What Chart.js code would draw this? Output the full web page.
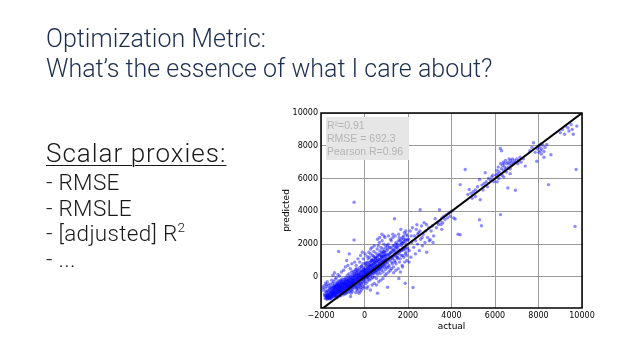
<!DOCTYPE html>
<html>
<head>
<meta charset="utf-8">
<script src="https://cdn.jsdelivr.net/npm/chart.js@4/dist/chart.umd.min.js"></script>
<style>
  html,body{margin:0;padding:0;background:#fff;}
  #wrap{position:relative;width:638px;height:359px;overflow:hidden;}
  #c{position:absolute;left:0;top:0;}
  .t{position:absolute;white-space:nowrap;font-family:Roboto,"Liberation Sans",sans-serif;font-weight:300;line-height:1;}
  .ti{left:46px;font-size:25px;color:#1d2e4f;}
  .h{left:46px;font-size:26px;color:#1a1a1a;letter-spacing:1px;text-decoration:underline;text-decoration-thickness:1px;text-underline-offset:3px;}
  .b{left:46px;font-size:22.5px;color:#1a1a1a;letter-spacing:0.3px;}
  sup{font-size:60%;vertical-align:top;position:relative;top:-1px;}
</style>
</head>
<body>
<div id="wrap">
  <canvas id="c" width="638" height="359"></canvas>
  <div class="t ti" style="top:26px">Optimization Metric:</div>
  <div class="t ti" style="top:56px">What’s the essence of what I care about?</div>
  <div class="t h" style="top:140px">Scalar proxies:</div>
  <div class="t b" style="top:171px">- RMSE</div>
  <div class="t b" style="top:197px">- RMSLE</div>
  <div class="t b" style="top:222px">- [adjusted] R<sup>2</sup></div>
  <div class="t b" style="top:248px">- ...</div>
</div>
<script>
// ---- data: [actual, predicted] pairs, grouped by region ----
const regionL1 = [[-1920,-650],[-1890,-820],[-1860,-540],[-1840,-1050],[-1810,-700],[-1790,-380],[-1770,-920],[-1750,-1180],[-1730,-600],[-1710,-300],[-1690,-850],[-1670,-1250],[-1650,-500],[-1630,-1000],[-1610,-720],[-1600,-1300],[-1580,-450],[-1560,-880],[-1540,-1150],[-1520,-620],[-1510,-200],[-1500,-980],[-1830,-1150],[-1760,-480],[-1680,-1100],[-1620,-1200],[-1570,-1280],[-1530,-1320],[-1720,-1050],[-1590,-650]];
const regionL2 = [[-1490,-1250],[-1480,-700],[-1470,-400],[-1460,-1050],[-1450,-850],[-1440,-550],[-1430,-1200],[-1420,-300],[-1410,-950],[-1400,-650],[-1390,-1100],[-1380,-800],[-1370,-480],[-1360,-1000],[-1350,-150],[-1340,-720],[-1330,-1150],[-1320,-880],[-1310,-560],[-1300,-1020],[-1290,-350],[-1280,-780],[-1270,-1200],[-1260,-640],[-1250,-920],[-1240,-420],[-1230,-1080],[-1220,-700],[-1210,-250],[-1200,-860],[-1190,-520],[-1180,-1000],[-1170,-680],[-1160,-330],[-1150,-900],[-1140,-600],[-1130,-1100],[-1120,-450],[-1110,-780],[-1100,-200],[-1090,-950],[-1080,-560],[-1070,-850],[-1060,-380],[-1050,-1020],[-1040,-650],[-1030,-120],[-1020,-760],[-1010,-480],[-1000,-900],[-1450,100],[-1380,250],[-1300,-50],[-1220,150],[-1150,50],[-1060,300],[-1190,1550],[-1420,-900],[-1350,-600],[-1270,-500],[-1230,-820],[-1160,-720],[-1120,-620],[-1080,-250],[-1040,-880],[-1480,-1000],[-1320,-1250],[-1260,-1280],[-1180,-1180],[-1100,-1150]];
const regionL3 = [[-990,-650],[-980,-300],[-970,-820],[-960,-500],[-950,-1000],[-940,-150],[-930,-700],[-920,-420],[-910,-880],[-900,-600],[-890,-250],[-880,-760],[-870,-50],[-860,-540],[-850,-920],[-840,-380],[-830,-680],[-820,-200],[-810,-830],[-800,-470],[-790,100],[-780,-620],[-770,-320],[-760,-780],[-750,-520],[-740,-100],[-730,-700],[-720,-400],[-710,200],[-700,-580],[-690,-280],[-680,-750],[-670,-450],[-660,0],[-650,-620],[-640,-340],[-630,-820],[-620,-180],[-610,-520],[-600,300],[-590,-400],[-580,-680],[-570,-120],[-560,-560],[-550,-300],[-540,-760],[-530,50],[-520,-450],[-510,-220],[-500,-620],[-960,400],[-880,600],[-820,1000],[-760,700],[-700,1400],[-650,500],[-580,800],[-520,350],[-900,-1050],[-840,-1000],[-760,-950],[-680,-900],[-620,-1000],[-560,-900],[-640,-1200],[-990,-1100],[-930,-350],[-870,-450],[-810,-580],[-750,-250],[-690,-520],[-630,-600],[-570,-350],[-510,-400]];
const regionL4 = [[-490,-150],[-480,-500],[-470,200],[-460,-320],[-450,-650],[-440,0],[-430,-420],[-420,-150],[-410,450],[-400,-550],[-390,-250],[-380,100],[-370,-450],[-360,-750],[-350,250],[-340,-300],[-330,-50],[-320,-600],[-310,400],[-300,-200],[-290,-450],[-280,150],[-270,-350],[-260,-700],[-250,50],[-240,-250],[-230,550],[-220,-480],[-210,-100],[-200,250],[-190,-380],[-180,-650],[-170,100],[-160,-200],[-150,650],[-140,-420],[-130,0],[-120,-280],[-110,350],[-100,-550],[-90,150],[-80,-150],[-70,800],[-60,-380],[-50,50],[-40,-200],[-30,450],[-20,-80],[-10,250],[-480,4550],[-480,2250],[-450,900],[-380,700],[-300,1100],[-220,900],[-180,1300],[-100,1500],[-60,1100],[-400,-950],[-330,-850],[-250,-1000],[-200,-900],[-150,-800],[-80,-700],[-20,-600],[-350,-650],[-290,-100],[-210,-550],[-140,-50],[-60,300],[-440,350],[-360,500],[-130,650]];
const regionM1 = [[0,100],[10,-250],[20,500],[30,-100],[40,250],[50,800],[60,-400],[70,150],[80,400],[90,-50],[100,650],[110,200],[120,-300],[130,900],[140,350],[150,0],[160,550],[170,1100],[180,-150],[190,300],[200,750],[210,100],[220,450],[230,1200],[240,-200],[250,600],[260,250],[270,900],[280,50],[290,1400],[300,450],[310,-100],[320,750],[330,300],[340,1050],[350,150],[360,600],[370,1300],[380,-50],[390,850],[400,400],[410,1000],[420,200],[430,1550],[440,650],[450,0],[460,950],[470,450],[480,1200],[490,300],[500,750],[30,1400],[120,1250],[200,1500],[280,1700],[350,1800],[450,1900],[270,-800],[150,-600],[350,-500],[450,-400],[100,-700],[60,850],[160,-50],[240,700],[320,1000],[380,550],[420,1250],[480,850]];
const regionM2 = [[510,1100],[520,250],[530,1450],[540,650],[550,-100],[560,1000],[570,400],[580,1700],[590,800],[600,150],[610,1250],[620,550],[630,1900],[640,900],[650,300],[660,1400],[670,700],[680,2100],[690,1050],[700,450],[710,1600],[720,850],[730,200],[740,1300],[750,600],[760,1800],[770,1000],[780,400],[790,1500],[800,750],[810,2200],[820,1150],[830,550],[840,1700],[850,950],[860,300],[870,1350],[880,800],[890,2000],[900,1100],[910,600],[920,1550],[930,900],[940,2400],[950,1250],[960,450],[970,1750],[980,1000],[990,650],[1000,1400],[600,2300],[700,2400],[800,2600],[900,2500],[550,-500],[650,-300],[750,-200],[850,-100],[950,100],[600,-1000],[580,1150],[680,550],[780,1250],[880,1500],[980,1900]];
const regionM3 = [[1010,900],[1030,1600],[1050,550],[1070,1300],[1090,2000],[1110,1050],[1130,700],[1150,1800],[1170,1200],[1190,400],[1210,1500],[1230,2200],[1250,900],[1270,1700],[1290,1100],[1310,2400],[1330,600],[1350,1450],[1370,1900],[1390,1000],[1410,2500],[1430,1300],[1450,800],[1470,1800],[1490,1200],[1060,-630],[1100,2500],[1200,2300],[1300,2600],[1380,3550],[1450,2100],[1020,200],[1120,300],[1240,500],[1340,250],[1440,400],[1060,1900],[1160,1400],[1260,1250],[1360,1600],[1460,1550]];
const regionM4 = [[1510,2000],[1530,1100],[1550,1700],[1570,2600],[1590,1400],[1610,900],[1630,2200],[1650,1600],[1670,2900],[1690,1300],[1710,1900],[1730,700],[1750,2400],[1770,1700],[1790,2100],[1810,1200],[1830,2700],[1850,1800],[1870,-390],[1890,2300],[1910,1500],[1930,2000],[1950,1000],[1970,2500],[1990,1700],[1550,500],[1650,300],[1750,600],[1850,900],[1950,1300],[1600,2400],[1700,2100],[1800,2300],[1900,2800],[1580,-100]];
const coreA = [[-1800,-1300],[-1780,-1150],[-1760,-1350],[-1740,-1200],[-1720,-1280],[-1700,-1100],[-1680,-1320],[-1660,-1150],[-1640,-1250],[-1620,-1050],[-1600,-1180],[-1580,-1000],[-1560,-1220],[-1540,-950],[-1520,-1100],[-1500,-850],[-1490,-1150],[-1470,-900],[-1450,-1050],[-1430,-780],[-1410,-1000],[-1390,-700],[-1370,-900],[-1350,-1080],[-1330,-650],[-1310,-820],[-1290,-980],[-1270,-600],[-1250,-760],[-1230,-920],[-1210,-550],[-1190,-700],[-1170,-880],[-1150,-500],[-1130,-650],[-1110,-820],[-1090,-450],[-1070,-600],[-1050,-780],[-1030,-400],[-1010,-560],[-1750,-900],[-1650,-850],[-1550,-780],[-1450,-650],[-1350,-550],[-1250,-450],[-1150,-380],[-1050,-300],[-1700,-1350],[-1600,-1350],[-1500,-1200],[-1400,-1150],[-1300,-1100],[-1200,-950],[-1100,-900]];
const coreB = [[-990,-720],[-970,-450],[-950,-600],[-930,-820],[-910,-380],[-890,-550],[-870,-700],[-850,-300],[-830,-480],[-810,-650],[-790,-250],[-770,-420],[-750,-600],[-730,-200],[-710,-380],[-690,-550],[-670,-150],[-650,-320],[-630,-480],[-610,-100],[-590,-280],[-570,-450],[-550,-50],[-530,-220],[-510,-400],[-490,0],[-470,-180],[-450,-350],[-430,50],[-410,-120],[-390,-300],[-370,100],[-350,-80],[-330,-250],[-310,150],[-290,-30],[-270,-200],[-250,200],[-230,20],[-210,-150],[-190,250],[-170,60],[-150,-100],[-130,300],[-110,100],[-90,-60],[-70,350],[-50,150],[-30,-20],[-10,400],[-950,-250],[-850,-150],[-750,-50],[-650,50],[-550,150],[-450,200],[-350,300],[-250,400],[-150,450],[-50,550]];
const coreC = [[10,50],[30,300],[50,150],[70,450],[90,250],[110,0],[130,500],[150,300],[170,100],[190,550],[210,350],[230,150],[250,650],[270,400],[290,200],[310,700],[330,450],[350,250],[370,750],[390,500],[410,300],[430,800],[450,550],[470,350],[490,900],[510,600],[530,400],[550,950],[570,650],[590,450],[610,1000],[630,700],[650,500],[670,1050],[690,800],[710,600],[730,1100],[750,850],[770,650],[790,1200],[810,900],[830,700],[850,1250],[870,950],[890,750],[910,1300],[930,1000],[950,800],[970,1350],[990,1100],[100,700],[200,850],[300,950],[400,1050],[500,1150],[600,1300],[700,1350],[800,1450],[900,1550]];
const coreD = [[1020,1150],[1060,850],[1100,1350],[1140,1000],[1180,1450],[1220,1100],[1260,1550],[1300,1200],[1340,1650],[1380,1300],[1420,1750],[1460,1400],[1500,1850],[1540,1450],[1580,1900],[1620,1550],[1660,2000],[1700,1600],[1740,2050],[1780,1650],[1820,2150],[1860,1700],[1900,2200],[1940,1800],[1980,2250],[1080,1700],[1200,1800],[1320,1900],[1440,2000],[1560,2200],[1680,2300],[1800,2500],[1920,2600],[1120,600],[1280,800],[1400,900],[1520,1200],[1640,1100],[1760,1300],[1880,1400]];
const regionR1 = [[2020,2300],[2060,1600],[2100,2800],[2130,1200],[2170,2100],[2200,3000],[2230,-650],[2260,1800],[2300,2500],[2340,1400],[2380,2900],[2410,3180],[2440,2000],[2480,2700],[2520,1600],[2560,4100],[2580,2300],[2620,3100],[2660,1900],[2700,2600],[2740,3300],[2780,2100],[2820,2800],[2860,1500],[2900,2400],[2950,3000],[2980,2200],[2050,900],[2150,2500],[2350,2200],[2450,2600],[2550,2800],[2650,2400],[2850,3200],[3020,2270]];
const regionR2 = [[3060,2800],[3120,3100],[3180,2500],[3250,3550],[3300,3000],[3350,3300],[3400,3200],[3450,4100],[3480,3400],[3520,3200],[3560,3600],[3600,3300],[3650,3700],[3700,3500],[3760,3800],[3820,3600],[3880,3900],[3940,3700],[4000,4000],[4100,3590],[4170,3530],[4300,2600],[4400,2570],[4400,5630],[3150,2100],[3550,2900]];
const regionR3 = [[4630,6550],[4750,5020],[4815,5330],[4900,5100],[4950,4800],[5000,5200],[5100,5300],[5200,5500],[5290,5940],[5290,3490],[5320,4710],[5380,3120],[5400,5600],[5500,5700],[5550,6350],[5600,5800],[5650,5500],[5700,6000],[5800,5900],[5850,6100],[5900,6200],[5950,5800],[5100,4900],[5450,5300]];
const regionR4 = [[6050,6200],[6090,6500],[6120,6300],[6150,6700],[6180,6000],[6200,6400],[6240,7840],[6250,3800],[6260,6900],[6300,6600],[6320,6200],[6350,6800],[6380,7000],[6400,6500],[6420,6900],[6450,6700],[6480,7100],[6500,6600],[6520,6400],[6550,6900],[6590,5430],[6600,7000],[6620,6700],[6650,7200],[6680,6900],[6700,6600],[6720,7100],[6750,6800],[6780,7000],[6800,7200],[6850,6900],[6900,7100],[6940,5290],[6950,7000],[7000,7200],[7050,6900],[7100,7100],[7150,7300],[7200,7000],[7300,7200],[7390,6760],[6100,5800],[6700,6300],[6400,6100],[6300,7700]];
const regionR5 = [[7600,7700],[7700,7900],[7770,8180],[7850,7600],[7920,7060],[7950,7800],[8000,8000],[8020,7600],[8050,7900],[8080,7700],[8100,8100],[8130,7500],[8150,7800],[8200,8050],[8250,7650],[8300,7900],[8380,8080],[8460,5630],[8570,7450],[8250,7300],[9000,8800],[9100,9000],[9200,8700],[9250,9200],[9350,9100],[9400,8900],[9500,9300],[9550,9000],[9600,8700],[9680,3080],[9730,6550],[9760,9200]];

const xTicks = [-2000, 0, 2000, 4000, 6000, 8000, 10000];
const yTicks = [0, 2000, 4000, 6000, 8000, 10000];
const identityLine = [-2000, 10000];
const statsLines = ['R\u00B2=0.91', 'RMSE = 692.3', 'Pearson R=0.96'];

const allRegions = [regionL1, regionL2, regionL3, regionL4, regionM1, regionM2, regionM3, regionM4,
  coreA, coreB, coreC, coreD, regionR1, regionR2, regionR3, regionR4, regionR5];
const scatterData = [];
allRegions.forEach(r => r.forEach(p => scatterData.push({x: p[0], y: p[1]})));

const framePlugin = {
  id: 'frame',
  afterDatasetsDraw(chart) {
    const {ctx, chartArea: a} = chart;
    ctx.save();
    ctx.strokeStyle = '#000';
    ctx.lineWidth = 1.5;
    ctx.strokeRect(a.left, a.top, a.right - a.left, a.bottom - a.top);
    const bx = a.left + 5, by = a.top + 4, bw = 83, bh = 43;
    ctx.fillStyle = '#e6e6e6';
    ctx.fillRect(bx, by, bw, bh);
    ctx.fillStyle = '#b4b4b4';
    ctx.font = '10.5px "Liberation Sans", Arial, sans-serif';
    ctx.textBaseline = 'alphabetic';
    statsLines.forEach((s, i) => ctx.fillText(s, bx + 1, by + 12 + i * 13));
    ctx.restore();
  }
};

const tickFont = {family: '"DejaVu Sans", sans-serif', size: 8};
new Chart(document.getElementById('c'), {
  type: 'scatter',
  data: {
    datasets: [
      {
        type: 'line',
        data: identityLine.map(v => ({x: v, y: v})),
        borderColor: '#000',
        borderWidth: 2,
        pointRadius: 0,
        order: 0
      },
      {
        data: scatterData,
        backgroundColor: 'rgba(0,0,255,0.45)',
        borderWidth: 0,
        pointRadius: 1.7,
        order: 1
      }
    ]
  },
  options: {
    responsive: false,
    animation: false,
    events: [],
    layout: {padding: {left: 277, right: 56, top: 113, bottom: 23}},
    plugins: {legend: {display: false}, tooltip: {enabled: false}},
    scales: {
      x: {
        type: 'linear',
        min: -2000, max: 10000,
        afterBuildTicks: s => { s.ticks = xTicks.map(v => ({value: v})); },
        afterFit: s => { s.height = 28; },
        grid: {color: '#9a9a9a', lineWidth: 1, drawTicks: false},
        border: {display: false},
        ticks: {font: tickFont, color: '#000', padding: 3, maxRotation: 0,
                callback: v => (v < 0 ? '\u2212' + Math.abs(v) : String(v))},
        title: {display: true, text: 'actual', font: {family: '"DejaVu Sans", sans-serif', size: 9}, color: '#000', padding: {top: 2, bottom: 4}}
      },
      y: {
        type: 'linear',
        min: -1900, max: 10000,
        afterBuildTicks: s => { s.ticks = yTicks.map(v => ({value: v})); },
        afterFit: s => { s.width = 44; },
        grid: {color: '#9a9a9a', lineWidth: 1, drawTicks: false},
        border: {display: false},
        ticks: {font: tickFont, color: '#000', padding: 3, callback: v => String(v)},
        title: {display: true, text: 'predicted', font: {family: '"DejaVu Sans", sans-serif', size: 9}, color: '#000', padding: {top: 4, bottom: 4}}
      }
    }
  },
  plugins: [framePlugin]
});
</script>
</body>
</html>
